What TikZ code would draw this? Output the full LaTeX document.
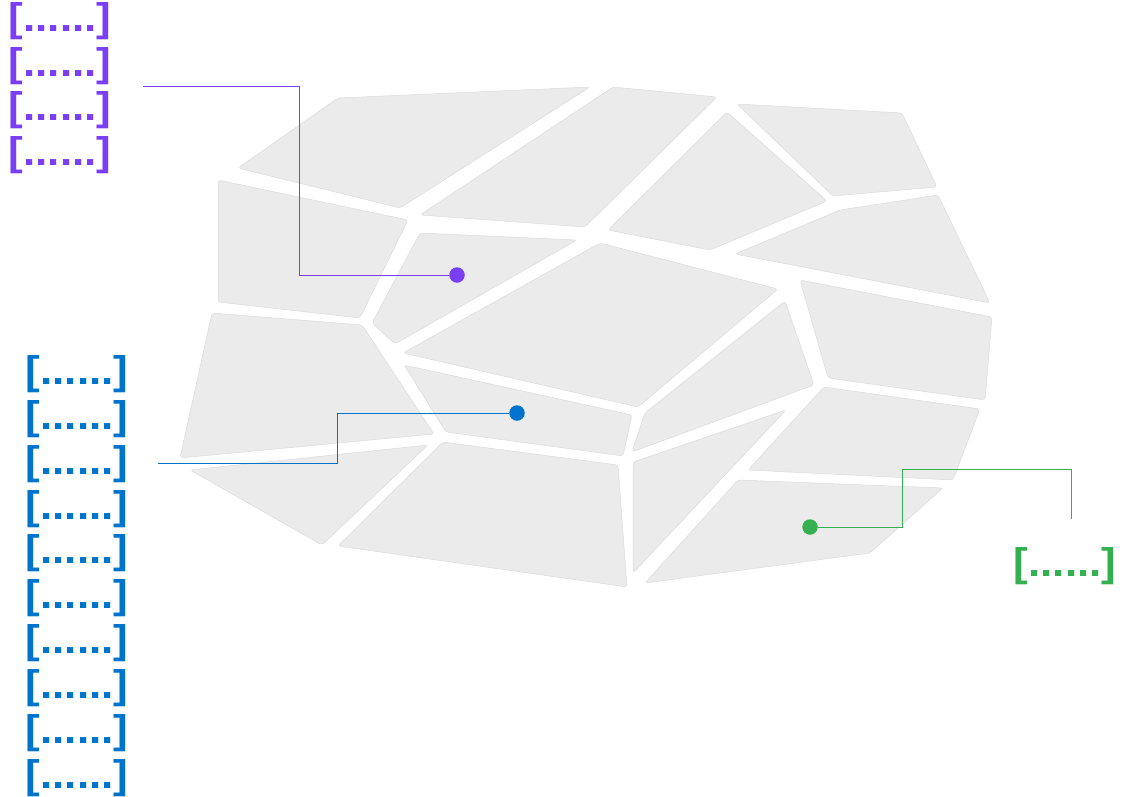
\documentclass[tikz,border=0pt]{standalone}
\usepackage{fontspec}
\setmainfont{Liberation Sans}
\usepackage{tikz}

\definecolor{tagpurple}{HTML}{7A3EF5}
\definecolor{tagblue}{HTML}{0074CC}
\definecolor{taggreen}{HTML}{34B050}
\definecolor{cellgray}{HTML}{EBEBEB}

\newcommand{\tagtext}{\scalebox{1.1}[1]{[......]}}

\begin{document}
\begin{tikzpicture}[x=1pt,y=-1pt,
    cell/.style={fill=cellgray,draw=black!14,line width=0.5pt,rounded corners=3pt},
    tag/.style={font=\fontsize{40}{40}\selectfont\bfseries,inner sep=0pt},
    pin/.style={circle,fill=#1,inner sep=0pt,minimum size=15.5pt},
    lead/.style={draw=#1,line width=0.9pt}]
    \useasboundingbox (0,0) rectangle (1125,796);

    % stones
    \fill[cell] (238,168) -- (338,98) -- (590,87) -- (400,208) -- cycle;
    \fill[cell] (218,180) -- (408,220) -- (360,318) -- (218,302) -- cycle;
    \fill[cell] (420,233) -- (577,240) -- (395,344) -- (372,323) -- cycle;
    \fill[cell] (420,215) -- (613,87) -- (717,97) -- (585,227) -- cycle;
    \fill[cell] (600,243) -- (778,289) -- (638,407) -- (403,353) -- cycle;
    \fill[cell] (727,112) -- (827,201) -- (710,250) -- (608,230) -- cycle;
    \fill[cell] (737,104) -- (902,113) -- (937,187) -- (833,196) -- cycle;
    \fill[cell] (735,254) -- (840,210) -- (938,195) -- (990,303) -- cycle;
    \fill[cell] (800,280) -- (992,317) -- (985,400) -- (828,378) -- cycle;
    \fill[cell] (785,301) -- (814,385) -- (632,452) -- (645,413) -- cycle;
    \fill[cell] (404,365) -- (632,415) -- (623,456) -- (446,432) -- cycle;
    \fill[cell] (212,313) -- (362,325) -- (434,434) -- (180,458) -- cycle;
    \fill[cell] (190,470) -- (428,445) -- (322,545) -- cycle;
    \fill[cell] (443,442) -- (618,465) -- (627,587) -- (338,546) -- cycle;
    \fill[cell] (633,462) -- (786,410) -- (633,573) -- cycle;
    \fill[cell] (738,480) -- (943,488) -- (870,553) -- (645,583) -- cycle;
    \fill[cell] (824,387) -- (980,409) -- (953,480) -- (748,470) -- cycle;

    % tags
    \foreach \i in {1,...,4} {
        \node[tag,text=tagpurple] (ptag\i) at (60,{21+44.7*(\i-1)}) {\tagtext};
      }
    \foreach \i in {1,...,10} {
        \node[tag,text=tagblue] (btag\i) at (77,{374+44.9*(\i-1)}) {\tagtext};
      }
    \node[tag,text=taggreen] (gtag) at (1065,566) {\tagtext};

    % pins and leads
    \node[pin=tagpurple] (pdot) at (457,275) {};
    \node[pin=tagblue] (bdot) at (517,413) {};
    \node[pin=taggreen] (gdot) at (810,527) {};
    \coordinate (pstart) at (143,86);
    \coordinate (bstart) at (158,463);
    \coordinate (gend) at (1071,519);

    \draw[lead=tagpurple] (pstart) -| (299,275) -- (pdot);
    \draw[lead=tagblue] (bstart) -| (337,413) -- (bdot);
    \draw[lead=taggreen] (gdot) -| (902,469) -| (gend);
  \end{tikzpicture}
\end{document}
